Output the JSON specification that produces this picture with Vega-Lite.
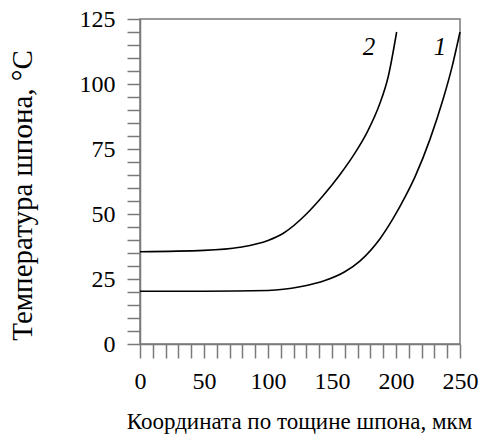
{
  "$schema": "https://vega.github.io/schema/vega-lite/v6.json",
  "width": 320,
  "height": 325,
  "autosize": {"type": "none"},
  "padding": {"left": 140, "top": 19, "right": 18, "bottom": 90},
  "background": "white",
  "config": {
    "view": {"stroke": "#7a7a7a", "strokeWidth": 1.5},
    "font": "Liberation Serif",
    "axis": {"labelFont": "Liberation Serif", "titleFont": "Liberation Serif"}
  },
  "datasets": {
    "curves": [
      {"x": 0, "T": 20.3, "curve": "1"},
      {"x": 50, "T": 20.3, "curve": "1"},
      {"x": 100, "T": 20.6, "curve": "1"},
      {"x": 125, "T": 22, "curve": "1"},
      {"x": 145, "T": 24.5, "curve": "1"},
      {"x": 160, "T": 27.8, "curve": "1"},
      {"x": 172, "T": 32, "curve": "1"},
      {"x": 187.5, "T": 40.5, "curve": "1"},
      {"x": 198, "T": 48.5, "curve": "1"},
      {"x": 207, "T": 56.5, "curve": "1"},
      {"x": 215, "T": 64.5, "curve": "1"},
      {"x": 226.6, "T": 78.8, "curve": "1"},
      {"x": 237, "T": 94.5, "curve": "1"},
      {"x": 243.5, "T": 106, "curve": "1"},
      {"x": 250, "T": 120, "curve": "1"},
      {"x": 0, "T": 35.5, "curve": "2"},
      {"x": 50, "T": 36, "curve": "2"},
      {"x": 78, "T": 37.2, "curve": "2"},
      {"x": 100, "T": 39.8, "curve": "2"},
      {"x": 112, "T": 42.6, "curve": "2"},
      {"x": 130, "T": 50, "curve": "2"},
      {"x": 143, "T": 57, "curve": "2"},
      {"x": 156, "T": 65, "curve": "2"},
      {"x": 168, "T": 73.5, "curve": "2"},
      {"x": 178, "T": 82, "curve": "2"},
      {"x": 187, "T": 92, "curve": "2"},
      {"x": 194, "T": 103, "curve": "2"},
      {"x": 200.5, "T": 120, "curve": "2"}
    ],
    "labels": [
      {"x": 179, "T": 114.3, "label": "2"},
      {"x": 234.4, "T": 114.3, "label": "1"}
    ]
  },
  "encoding": {
    "x": {
      "field": "x", "type": "quantitative",
      "scale": {"domain": [0, 250], "nice": false, "zero": false},
      "axis": {
        "title": "Координата по тощине шпона, мкм",
        "values": [0,10,20,30,40,50,60,70,80,90,100,110,120,130,140,150,160,170,180,190,200,210,220,230,240,250],
        "labelExpr": "datum.value % 50 === 0 ? datum.label : ''",
        "grid": false,
        "domainColor": "#7a7a7a", "domainWidth": 1.5,
        "tickColor": "#7a7a7a", "tickWidth": 1.5, "tickSize": 14,
        "encode": {"ticks": {"update": {"y2": {"signal": "datum.value % 50 === 0 ? 14 : 7"}}}},
        "labelFont": "Liberation Serif", "labelFontSize": 24, "labelColor": "black",
        "labelPadding": 11, "labelFlush": false, "labelOverlap": false,
        "titleFont": "Liberation Serif", "titleFontSize": 23, "titleFontWeight": "normal", "titleColor": "black",
        "titleBaseline": "alphabetic", "titleX": 159, "titleY": 84
      }
    },
    "y": {
      "field": "T", "type": "quantitative",
      "scale": {"domain": [0, 125], "nice": false},
      "axis": {
        "title": "Температура шпона, °С",
        "values": [0,5,10,15,20,25,30,35,40,45,50,55,60,65,70,75,80,85,90,95,100,105,110,115,120,125],
        "labelExpr": "datum.value % 25 === 0 ? datum.label : ''",
        "grid": false,
        "domainColor": "#7a7a7a", "domainWidth": 1.5,
        "tickColor": "#7a7a7a", "tickWidth": 1.5, "tickSize": 13,
        "encode": {"ticks": {"update": {"x2": {"signal": "datum.value % 25 === 0 ? -13 : -7"}}}},
        "labelFont": "Liberation Serif", "labelFontSize": 24, "labelColor": "black",
        "labelPadding": 12, "labelFlush": false, "labelOverlap": false,
        "titleFont": "Liberation Serif", "titleFontSize": 29, "titleFontWeight": "normal", "titleColor": "black",
        "titleX": -103, "titleY": 176
      }
    }
  },
  "layer": [
    {
      "data": {"name": "curves"},
      "mark": {"type": "line", "interpolate": "monotone", "color": "black", "strokeWidth": 1.6},
      "encoding": {
        "detail": {"field": "curve", "type": "nominal"}
      }
    },
    {
      "data": {"name": "labels"},
      "mark": {"type": "text", "font": "Liberation Serif", "fontStyle": "italic", "fontSize": 25, "color": "black", "align": "center", "baseline": "middle"},
      "encoding": {
        "text": {"field": "label"}
      }
    }
  ]
}
